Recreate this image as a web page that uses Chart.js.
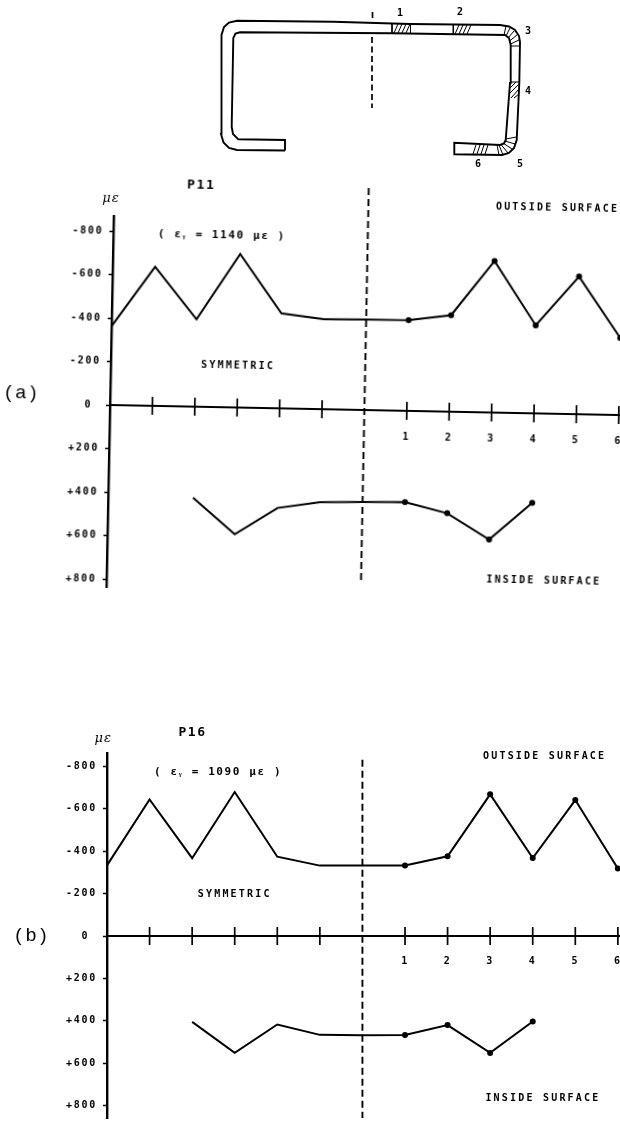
<!DOCTYPE html>
<html><head><meta charset="utf-8">
<script src="https://cdn.jsdelivr.net/npm/chart.js@4/dist/chart.umd.min.js"></script>
<style>
html,body{margin:0;padding:0;background:#fff;width:620px;height:1130px;overflow:hidden}
canvas{position:absolute;display:block}
#cs{left:0;top:0}
#ca{left:0;top:170px;transform-origin:110px 235px;transform:rotate(1.13deg)}
#cb{left:0;top:700px}
</style></head><body>
<canvas id="cs" width="620" height="175"></canvas>
<canvas id="ca" width="660" height="450"></canvas>
<canvas id="cb" width="660" height="430"></canvas>
<script>
// Gauge stations along the half-section (7..12 are gauges 1..6)
const stations = [0,1,2,3,4,5,6,7,8,9,10,11,12];
const stationTicks = [1,2,3,4,5,6,7,8,9,10,11,12];
const gaugeLabels = {7:'1',8:'2',9:'3',10:'4',11:'5',12:'6'};
const strainTicks = [-800,-600,-400,-200,0,200,400,600,800];

// Panel (a) P11, microstrain
const outsideA = [-363,-640,-402,-706,-437,-414,-416,-417,-444,-697,-405,-633,-354];
const insideA  = [null,null,418,583,458,428,423,420,467,584,411,null,null];
// Panel (b) P16, microstrain
const outsideB = [-333,-644,-367,-679,-374,-332,-332,-333,-376,-668,-368,-641,-318];
const insideB  = [null,null,405,551,417,466,468,467,420,551,403,null,null];

// Cross-section outline (drawing units)
const sectionOutline = [[285,150.5],[237,150],[229,148],[223.5,142.5],[221,134],[221.5,35],[224,27],[229,22.5],[237,20.7],[333,21.7],[410,24],[500,25],[509,26.5],[515,30],[519,36],[520,42],[519.3,83],[516.7,140],[514,148],[509,153],[502,155],[454.3,154.3],[454.3,142.7],[500,145],[504,143.5],[505.7,140],[510,83],[510.7,45],[509,38],[505,35],[391.7,33.3],[240,32.3],[235.5,33.5],[233.3,38],[231.7,127],[233,134],[238.3,139.3],[285,140],[285,150.5]];
const sectionHatch = [
 [[392,24],[392,33]],[[410.5,24],[410.5,33]],[[394,33],[398,24]],[[398,33],[402,24]],[[402,33],[406,24]],[[406,33],[410,24]],
 [[453.3,25],[453.3,34]],[[455,34],[459,25]],[[459,34],[463,25]],[[463,34],[467,25]],[[467,34],[471,25]],
 [[504,35],[506,26]],[[506,36],[510,28]],[[508,38],[514,31]],[[509.5,41],[517,35]],[[510.5,44],[519,40]],[[510,46],[520,46]],
 [[510,82],[519.5,82]],[[510,88],[516,82]],[[510,93],[519,84]],[[511,98],[519,89]],[[514,98],[519,94]],
 [[505.7,139],[516.5,137]],[[505,141],[515,144]],[[503,143],[512,149]],[[501,144.5],[508,153]],[[499,145],[503,155]],[[497,145],[499,155]],
 [[473,154],[476,145]],[[477,154],[480,145]],[[481,154],[484,145]],[[485,154],[488,145]]
];
const sectionAxis = [[372.5,12],[372.5,18],null,[372,37],[372,108]];
const sectionNotes = [['1',400,13],['2',460,12.5],['3',528,31],['4',528,91],['5',520,164],['6',478,164]];

// Text notes: text, station, strain, font, spacing
const MONO = '"DejaVu Sans Mono"';
const notesA = [
 ['P11',2.05,-1020,'bold 13px '+MONO,'1.6px'],
 ['με',-0.07,-947,'italic 13px "DejaVu Serif"','1px'],
 ['( εᵧ = 1140 με )',2.56,-792,'bold 11px '+MONO,'1.6px'],
 ['SYMMETRIC',3.0,-192,'bold 10px '+MONO,'2.2px'],
 ['OUTSIDE SURFACE',10.46,-947,'bold 10px '+MONO,'2.2px'],
 ['INSIDE SURFACE',10.31,769,'bold 10px '+MONO,'2.2px'],
 ['(a)',-2.06,-47,'19px "Liberation Sans"','4px']
];
const notesB = [
 ['P16',2.01,-960,'bold 13px '+MONO,'1.6px'],
 ['με',-0.09,-931,'italic 13px "DejaVu Serif"','1px'],
 ['( εᵧ = 1090 με )',2.61,-773,'bold 11px '+MONO,'1.6px'],
 ['SYMMETRIC',3.0,-195,'bold 10px '+MONO,'2.2px'],
 ['OUTSIDE SURFACE',10.28,-849,'bold 10px '+MONO,'2.2px'],
 ['INSIDE SURFACE',10.24,764,'bold 10px '+MONO,'2.2px'],
 ['(b)',-1.74,0,'19px "Liberation Sans"','4px']
];

const INK = '#000';
const points = vals => stations.map((x,i)=>({x, y: vals[i]}));

const panelPlugin = {
  id:'panel',
  beforeDraw(chart){ chart.ctx.letterSpacing='1.7px'; },
  afterDraw(chart,args,opts){
    const {ctx,scales:{x,y}} = chart;
    const y0 = y.getPixelForValue(0);
    ctx.save();
    ctx.strokeStyle = INK; ctx.lineWidth = 1.7;
    x.ticks.forEach(t=>{
      if(t.value===6) return;
      const px = x.getPixelForValue(t.value);
      ctx.beginPath(); ctx.moveTo(px,y0-9); ctx.lineTo(px,y0+9); ctx.stroke();
    });
    ctx.fillStyle = INK; ctx.textAlign='center'; ctx.textBaseline='middle';
    opts.notes.forEach(([text,sx,sv,font,sp])=>{
      ctx.font = font; ctx.letterSpacing = sp;
      ctx.fillText(text,x.getPixelForValue(sx),y.getPixelForValue(sv));
    });
    ctx.restore();
  }
};

function panel(id,outside,inside,notes,cfg){
  const marked = c => c.dataIndex>=7 ? 3 : 0;
  const line = (vals)=>({data:points(vals),borderColor:INK,backgroundColor:INK,borderWidth:2,
    pointRadius:marked,pointBackgroundColor:INK,pointBorderWidth:0,tension:0,clip:false,spanGaps:false});
  return new Chart(document.getElementById(id),{
    type:'line',
    data:{datasets:[
      line(outside),line(inside),
      {data:[{x:6,y:cfg.dashTop},{x:6,y:cfg.dashBottom}],borderColor:INK,borderWidth:1.9,borderDash:[7,4],pointRadius:0,clip:false}
    ]},
    options:{
      responsive:false,animation:false,devicePixelRatio:1,
      layout:{padding:cfg.padding},
      plugins:{legend:{display:false},tooltip:{enabled:false},title:{display:false},panel:{notes}},
      scales:{
        x:{type:'linear',min:0,max:12.05,position:{y:0},
          afterFit:s=>{s.height=0;},
          afterBuildTicks:s=>{s.ticks=stationTicks.map(v=>({value:v}));},
          grid:{drawOnChartArea:false,drawTicks:false},
          border:{display:true,color:INK,width:2},
          ticks:{autoSkip:false,maxRotation:0,minRotation:0,padding:cfg.xPad,color:INK,
            font:{family:'DejaVu Sans Mono',weight:'bold',size:10},
            callback:v=>gaugeLabels[v]||''}},
        y:{type:'linear',reverse:true,min:cfg.min,max:cfg.max,
          afterFit:s=>{s.width=cfg.left;},
          afterBuildTicks:s=>{s.ticks=strainTicks.map(v=>({value:v}));},
          grid:{drawOnChartArea:false,drawTicks:true,tickLength:4,tickColor:INK,tickWidth:1.5},
          border:{display:true,color:INK,width:2.4},
          ticks:{autoSkip:false,padding:6,color:INK,
            font:{family:'DejaVu Sans Mono',weight:'bold',size:10},
            callback:v=>v===0?'0 ':(v>0?'+'+v:String(v))}}
      }
    },
    plugins:[panelPlugin]
  });
}

panel('ca',outsideA,insideA,notesA,{min:-870,max:840,left:110,xPad:20,dashTop:-1021,dashBottom:789,
  padding:{top:45.8,bottom:32.3,left:0,right:39}});
panel('cb',outsideB,insideB,notesB,{min:-863,max:858,left:107,xPad:19,dashTop:-831,dashBottom:858,
  padding:{top:53,bottom:0,left:0,right:40}});

// Cross-section drawn as a line chart in its own drawing units
const toXY = list => list.map(p=>p?({x:p[0],y:p[1]}):({x:null,y:null}));
const hatchPts = sectionHatch.flatMap(seg=>[...seg,null]);
new Chart(document.getElementById('cs'),{
  type:'line',
  data:{datasets:[
    {data:toXY(sectionOutline),borderColor:INK,borderWidth:1.9,pointRadius:0,tension:0},
    {data:toXY(hatchPts),borderColor:INK,borderWidth:1,pointRadius:0,tension:0,spanGaps:false},
    {data:toXY(sectionAxis),borderColor:INK,borderWidth:1.7,borderDash:[6,3.5],pointRadius:0,tension:0,spanGaps:false}
  ]},
  options:{
    responsive:false,animation:false,devicePixelRatio:1,
    layout:{padding:0},
    plugins:{legend:{display:false},tooltip:{enabled:false}},
    scales:{x:{type:'linear',min:0,max:620,display:false},y:{type:'linear',reverse:true,min:0,max:175,display:false}}
  },
  plugins:[{id:'gaugeNotes',afterDraw(chart){
    const {ctx,scales:{x,y}}=chart;
    ctx.save();ctx.fillStyle=INK;ctx.font='bold 10px '+MONO;ctx.textAlign='center';ctx.textBaseline='middle';
    sectionNotes.forEach(([t,a,b])=>ctx.fillText(t,x.getPixelForValue(a),y.getPixelForValue(b)));
    ctx.restore();
  }}]
});
</script>
</body></html>
